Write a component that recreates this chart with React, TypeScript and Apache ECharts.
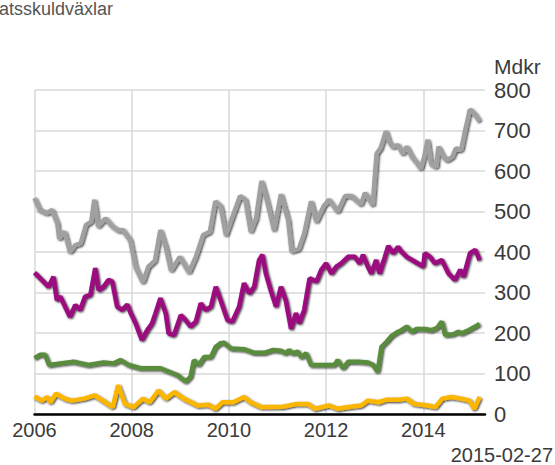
import React, { useEffect, useRef } from "react";
import * as echarts from "echarts";

const yearTicks = [2006, 2008, 2010, 2012, 2014];
const yTicks = [0, 100, 200, 300, 400, 500, 600, 700, 800];

const grayData: [number, number][] = [
  [2006.0, 533], [2006.11, 504], [2006.26, 496], [2006.36, 504], [2006.47, 471], [2006.51, 433], [2006.62, 450], [2006.73, 400], [2006.84, 417], [2006.95, 421],
  [2007.06, 467], [2007.17, 475], [2007.23, 529], [2007.31, 463], [2007.46, 483], [2007.61, 463], [2007.72, 454], [2007.82, 454], [2007.97, 429],
  [2008.08, 363], [2008.23, 325], [2008.34, 363], [2008.48, 379], [2008.59, 454], [2008.7, 413], [2008.81, 354], [2008.99, 388],
  [2009.18, 350], [2009.32, 388], [2009.47, 442], [2009.61, 450], [2009.72, 525], [2009.83, 513], [2009.94, 442],
  [2010.09, 492], [2010.23, 538], [2010.34, 529], [2010.45, 450], [2010.56, 483], [2010.67, 575], [2010.78, 529], [2010.93, 454],
  [2011.07, 542], [2011.22, 479], [2011.29, 402], [2011.44, 408], [2011.55, 446], [2011.69, 525], [2011.8, 475], [2011.95, 513],
  [2012.06, 529], [2012.24, 500], [2012.39, 538], [2012.53, 538], [2012.72, 518], [2012.8, 546], [2012.96, 516],
  [2013.04, 643], [2013.12, 656], [2013.23, 698], [2013.3, 673], [2013.37, 660], [2013.48, 664], [2013.58, 643], [2013.66, 660], [2013.77, 635], [2013.88, 618], [2013.95, 606],
  [2014.02, 635], [2014.09, 677], [2014.16, 618], [2014.27, 610], [2014.31, 660], [2014.42, 635], [2014.49, 627], [2014.6, 635], [2014.67, 656], [2014.78, 652], [2014.85, 693], [2014.96, 752],
  [2015.07, 739], [2015.16, 723]
];

const purpleData: [number, number][] = [
  [2006.0, 349], [2006.15, 331], [2006.29, 314], [2006.39, 339], [2006.46, 281], [2006.53, 290], [2006.63, 265], [2006.73, 240], [2006.84, 269], [2006.94, 257],
  [2007.04, 290], [2007.15, 294], [2007.25, 360], [2007.32, 306], [2007.42, 314], [2007.52, 331], [2007.6, 327], [2007.7, 265], [2007.8, 257], [2007.91, 270], [2007.97, 252],
  [2008.08, 224], [2008.21, 183], [2008.32, 207], [2008.42, 224], [2008.49, 249], [2008.59, 286], [2008.7, 249], [2008.76, 199], [2008.87, 195],
  [2009.01, 244], [2009.11, 232], [2009.21, 216], [2009.32, 228], [2009.42, 273], [2009.52, 257], [2009.63, 265], [2009.73, 314], [2009.83, 281], [2009.97, 232],
  [2010.07, 228], [2010.21, 265], [2010.31, 323], [2010.42, 298], [2010.52, 314], [2010.62, 380], [2010.69, 393], [2010.76, 347], [2010.86, 306], [2010.97, 265],
  [2011.07, 314], [2011.17, 281], [2011.28, 210], [2011.38, 249], [2011.45, 224], [2011.55, 257], [2011.66, 335], [2011.8, 327], [2011.9, 356],
  [2012.0, 372], [2012.11, 347], [2012.21, 364], [2012.31, 372], [2012.45, 388], [2012.59, 388], [2012.69, 372], [2012.76, 393], [2012.86, 364], [2012.93, 347],
  [2013.03, 380], [2013.1, 347], [2013.21, 388], [2013.28, 415], [2013.38, 397], [2013.48, 413], [2013.55, 401], [2013.66, 388], [2013.83, 376],
  [2014.0, 364], [2014.03, 397], [2014.14, 388], [2014.24, 372], [2014.38, 380], [2014.52, 347], [2014.65, 331], [2014.76, 356], [2014.83, 339], [2014.96, 397],
  [2015.07, 405], [2015.16, 380]
];

const greenData: [number, number][] = [
  [2006.0, 138], [2006.11, 146], [2006.22, 146], [2006.3, 121], [2006.53, 125], [2006.8, 129],
  [2007.11, 121], [2007.42, 127], [2007.63, 125], [2007.77, 133], [2007.94, 121],
  [2008.18, 113], [2008.59, 113], [2008.94, 96], [2009.11, 80], [2009.21, 92], [2009.28, 133], [2009.38, 121], [2009.49, 141], [2009.63, 141], [2009.73, 166], [2009.83, 175], [2009.9, 176],
  [2010.04, 162], [2010.31, 160], [2010.52, 151], [2010.73, 151], [2010.9, 158],
  [2011.07, 156], [2011.17, 150], [2011.24, 158], [2011.31, 150], [2011.42, 154], [2011.49, 140], [2011.59, 150], [2011.69, 121],
  [2012.04, 121], [2012.17, 121], [2012.24, 133], [2012.35, 113], [2012.45, 129], [2012.66, 129], [2012.86, 127], [2012.97, 121],
  [2013.06, 104], [2013.14, 166], [2013.25, 179], [2013.35, 193], [2013.45, 201], [2013.55, 207], [2013.66, 216], [2013.76, 203], [2013.86, 210],
  [2014.03, 210], [2014.17, 207], [2014.28, 212], [2014.38, 228], [2014.45, 195], [2014.62, 197], [2014.72, 203], [2014.79, 199], [2014.93, 207],
  [2015.07, 216], [2015.16, 222]
];

const yellowData: [number, number][] = [
  [2006.0, 43], [2006.15, 33], [2006.26, 42], [2006.33, 29], [2006.44, 50], [2006.62, 38], [2006.77, 33],
  [2007.02, 38], [2007.24, 46], [2007.46, 29], [2007.61, 17], [2007.72, 71], [2007.86, 25],
  [2008.04, 17], [2008.23, 38], [2008.37, 29], [2008.55, 58], [2008.7, 38], [2008.88, 54],
  [2009.07, 38], [2009.36, 21], [2009.58, 23], [2009.72, 13], [2009.87, 29],
  [2010.09, 29], [2010.31, 42], [2010.45, 29], [2010.67, 17],
  [2011.11, 18], [2011.4, 25], [2011.62, 25], [2011.77, 13],
  [2012.06, 21], [2012.24, 13], [2012.5, 18], [2012.72, 21], [2012.86, 33],
  [2013.08, 29], [2013.23, 35], [2013.48, 35], [2013.66, 38], [2013.81, 25],
  [2014.09, 21], [2014.25, 17], [2014.39, 38], [2014.58, 42], [2014.77, 38], [2014.95, 33],
  [2015.05, 13], [2015.16, 42]
];

const seriesColors = ["#a0a0a0", "#9b0a7e", "#5a8c3e", "#fbb600"];
const titleText = "atsskuldväxlar";
const unitText = "Mdkr";
const dateText = "2015-02-27";

const FONT = "'Liberation Sans', Arial, sans-serif";

export default function App() {
  const ref = useRef<HTMLDivElement>(null);
  useEffect(() => {
    if (!ref.current) return;
    const chart = echarts.init(ref.current, undefined, { renderer: "svg" });
    const mk = (data: [number, number][], color: string) => ({
      type: "line",
      data,
      symbol: "none",
      showSymbol: false,
      lineStyle: {
        color,
        width: 4.5,
        shadowColor: "rgba(0,0,0,0.8)",
        shadowBlur: 2,
        shadowOffsetX: 1,
        shadowOffsetY: 1,
      },
    });
    chart.setOption({
      animation: false,
      textStyle: { fontFamily: FONT },
      grid: { left: 34.5, right: 70, top: 90, bottom: 51, containLabel: false },
      xAxis: {
        type: "value",
        min: yearTicks[0],
        max: 2015.27,
        interval: 2,
        axisLine: { onZero: true, lineStyle: { color: "#000", width: 2.5 } },
        axisTick: { show: false },
        axisLabel: {
          fontSize: 20,
          color: "#3a3a3a",
          margin: 6,
          showMaxLabel: false,
          formatter: (v: number) => (yearTicks.includes(v) ? String(v) : ""),
        },
        splitLine: { show: true, showMaxLine: false, lineStyle: { color: "#d8d8d8", width: 1.5 } },
      },
      yAxis: {
        type: "value",
        position: "right",
        min: yTicks[0],
        max: yTicks[yTicks.length - 1],
        interval: 100,
        axisLine: { show: false },
        axisTick: { show: false },
        axisLabel: { fontSize: 22, color: "#3a3a3a", margin: 9 },
        splitLine: { lineStyle: { color: "#d8d8d8", width: 1.5 } },
      },
      graphic: [
        {
          type: "text",
          left: -1,
          top: 0,
          style: { text: titleText, fontSize: 18, fill: "#555", fontFamily: FONT },
        },
        {
          type: "text",
          left: 494,
          top: 56,
          style: { text: unitText, fontSize: 21, fill: "#3a3a3a", fontFamily: FONT },
        },
        {
          type: "text",
          right: 2,
          top: 445,
          style: { text: dateText, fontSize: 20, fill: "#3a3a3a", fontFamily: FONT },
        },
      ],
      series: [
        mk(grayData, seriesColors[0]),
        mk(purpleData, seriesColors[1]),
        mk(greenData, seriesColors[2]),
        mk(yellowData, seriesColors[3]),
      ],
    });
    return () => chart.dispose();
  }, []);
  return (
    <div
      ref={ref}
      style={{ position: "absolute", left: 0, top: 0, width: 555, height: 465 }}
    />
  );
}
